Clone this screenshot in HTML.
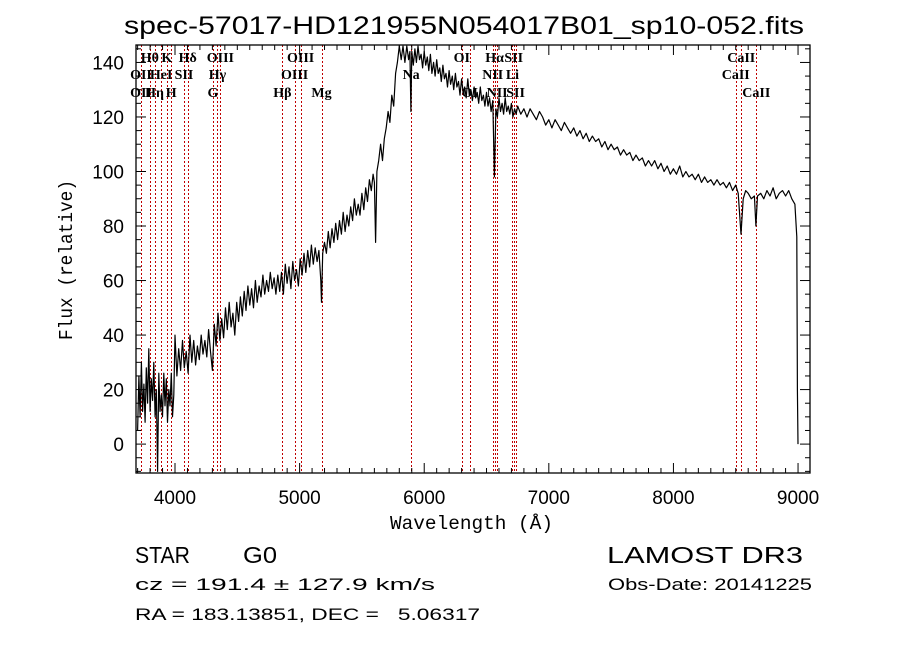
<!DOCTYPE html>
<html><head><meta charset="utf-8"><style>
html,body{margin:0;padding:0;background:#fff;}
svg{display:block;}
</style></head><body>
<svg id="chart" width="900" height="649" viewBox="0 0 900 649" xmlns="http://www.w3.org/2000/svg">
<rect width="900" height="649" fill="#fff"/>
<text x="124" y="34" textLength="680" lengthAdjust="spacingAndGlyphs" font-family="Liberation Sans, sans-serif" font-size="25">spec-57017-HD121955N054017B01_sp10-052.fits</text>
<g id="lines"></g>
<g id="labels"></g>
<path id="spec" fill="none" stroke="#000" stroke-width="1.2" stroke-linejoin="round"/>
<g id="axes"></g>
<text x="390" y="529" textLength="163" lengthAdjust="spacingAndGlyphs" font-family="Liberation Mono, monospace" font-size="19">Wavelength (Å)</text>
<text transform="translate(72,260) rotate(-90)" text-anchor="middle" textLength="160" lengthAdjust="spacingAndGlyphs" font-family="Liberation Mono, monospace" font-size="19">Flux (relative)</text>
<text x="135" y="563" textLength="55" lengthAdjust="spacingAndGlyphs" font-family="Liberation Sans, sans-serif" font-size="23">STAR</text>
<text x="243" y="563" textLength="34" lengthAdjust="spacingAndGlyphs" font-family="Liberation Sans, sans-serif" font-size="23">G0</text>
<text x="607" y="563" textLength="196" lengthAdjust="spacingAndGlyphs" font-family="Liberation Sans, sans-serif" font-size="23">LAMOST DR3</text>
<text x="135" y="590" textLength="300" lengthAdjust="spacingAndGlyphs" font-family="Liberation Sans, sans-serif" font-size="17">cz = 191.4 ± 127.9 km/s</text>
<text x="608" y="590" textLength="204" lengthAdjust="spacingAndGlyphs" font-family="Liberation Sans, sans-serif" font-size="17">Obs-Date: 20141225</text>
<text x="135" y="620" textLength="345" lengthAdjust="spacingAndGlyphs" font-family="Liberation Sans, sans-serif" font-size="17" xml:space="preserve">RA = 183.13851, DEC =   5.06317</text>
</svg>
<script>
const wave = [3700,3710,3720,3730,3740,3750,3760,3770,3780,3790,3800,3810,3820,3830,3840,3850,3860,3870,3880,3890,3900,3910,3920,3930,3940,3950,3960,3970,3980,3990,
4000,4015,4030,4045,4060,4075,4090,4105,4120,4135,4150,4165,4180,4195,4210,4225,4240,4255,4270,4285,4300,4315,4330,4345,4360,4375,4390,4405,4420,4435,4450,4465,4480,4495,4510,4525,4540,4555,4570,4585,4600,4615,4630,4645,4660,4675,4690,4705,4720,4735,4750,4765,4780,4795,4810,4825,4840,4855,4870,4885,4900,4915,4930,4945,4960,4975,4990,
5005,5020,5035,5050,5065,5080,5095,5110,5125,5140,5155,5170,5176,5185,5200,5215,5230,5245,5260,5275,5290,5305,5320,5335,5350,5365,5380,5395,5410,5425,5440,5455,5470,5485,5500,5515,5530,5545,5560,5575,5590,5600,5610,5620,5635,5650,5665,5680,5695,5710,5725,5740,5755,5770,5785,5800,5815,5830,5845,5860,5875,5885,5893,
5900,5912,5925,5937,5950,5962,5975,5987,6000,6012,6025,6037,6050,6062,6075,6087,6100,6112,6125,6137,6150,6162,6175,6187,6200,6212,6225,6237,6250,6262,6275,6287,6300,6312,6325,6337,6350,6362,6375,6387,6400,6412,6425,6437,6450,6462,6475,6487,6500,6512,6525,6537,6550,6563,6575,6587,6600,6612,6625,6637,6650,6662,6675,6687,6700,6712,6725,6737,
6750,6775,6800,6825,6850,6875,6900,6925,6950,6975,7000,7025,7050,7075,7100,7125,7150,7175,7200,7225,7250,7275,7300,7325,7350,7375,7400,7425,7450,7475,7500,7525,7550,7575,7600,7625,7650,7675,7700,7725,7750,7775,7800,7825,7850,7875,7900,7925,7950,7975,8000,8025,8050,8075,8100,8125,8150,8175,8200,8225,8250,8275,8300,8325,8350,8375,8400,8425,8450,8475,
8500,8520,8542,8560,8580,8600,8625,8650,8662,8675,8700,8725,8750,8775,8800,8825,8850,8875,8900,8925,8950,8975,8990,8995,9000];
const flux = [5,25,10,30,12,22,8,28,15,35,12,24,16,30,10,20,-10,26,12,18,10,26,14,24,8,20,14,26,10,18,
40,25,35,27,38,28,34,26,40,30,38,29,36,31,40,33,38,32,42,34,27,44,36,48,38,46,39,50,42,52,43,48,40,52,45,54,47,56,49,58,51,57,50,60,52,58,54,62,55,60,56,63,57,61,55,62,56,63,55,66,59,65,57,67,60,64,58,
68,62,70,63,71,65,73,66,72,67,71,60,52,70,74,70,78,72,79,74,81,75,82,77,85,78,84,80,87,82,90,84,88,84,92,86,94,89,97,93,99,96,74,100,104,110,104,112,116,122,118,128,124,136,140,146,141,146,140,146,141,144,122,
144,139,145,140,146,141,143,138,144,139,142,137,143,136,140,135,141,136,138,133,139,134,136,131,137,132,135,130,136,131,133,128,134,129,131,127,134,128,130,126,131,127,129,125,131,126,128,124,129,124,127,122,126,98,123,120,127,122,125,121,127,122,124,121,125,120,123,121,
124,121,123,120,123,121,119,122,120,117,119,116,119,117,115,118,116,114,116,113,115,112,114,111,113,111,112,109,111,108,110,108,109,106,108,106,107,104,106,104,105,102,104,102,104,101,103,100,102,99,101,99,102,98,100,98,99,97,99,96,98,96,97,95,97,95,96,94,96,93,
95,92,77,90,93,92,90,91,80,91,92,90,93,91,94,90,92,93,91,93,90,88,76,20,0];
const lineWaves = [3727,3798,3836,3889,3934,3969,4072,4102,4305,4341,4364,4862,4960,5008,5176,5895,6302,6366,6550,6565,6585,6708,6718,6733,8500,8544,8665];
const labelNames = ["Hθ","K","Hδ","OIII","OIII","OI","Hα","SII","CaII","OII","HeI","SII","Hγ","OIII","Na","NII","Li","CaII","OII","Hη","H","G","Hβ","Mg","OI","NII","SII","CaII"];
const labelWaves = [3798,3934,4102,4364,5008,6302,6565,6718,8544,3727,3889,4072,4341,4960,5895,6550,6708,8500,3727,3836,3969,4305,4862,5176,6366,6585,6733,8665];
const labelRows = [0,0,0,0,0,0,0,0,0,1,1,1,1,1,1,1,1,1,2,2,2,2,2,2,2,2,2,2];
const xTicks = [4000,5000,6000,7000,8000,9000];
const yTicks = [0,20,40,60,80,100,120,140];

const L=136,R=810,T=45,B=473;
const xMin=3687,xMax=9096,yMin=-10.6,yMax=146.4;
const X=w=>L+(w-xMin)/(xMax-xMin)*(R-L);
const Y=f=>B-(f-yMin)/(yMax-yMin)*(B-T);
const NS="http://www.w3.org/2000/svg";
function mk(tag,attrs,parent){const e=document.createElementNS(NS,tag);for(const k in attrs)e.setAttribute(k,attrs[k]);parent.appendChild(e);return e;}

const lg=document.getElementById('lines');
lineWaves.forEach(w=>{
  const xx=Math.round(X(w))+0.5;
  const l=mk('line',{x1:xx,x2:xx,y1:T,y2:B,stroke:'#c00000','stroke-width':1,'stroke-dasharray':'2,2'},lg);
  
  
});
const lb=document.getElementById('labels');
const rowY=[62,79,97];
labelNames.forEach((n,i)=>{
  const t=mk('text',{x:X(labelWaves[i]),y:rowY[labelRows[i]],'text-anchor':'middle','font-family':'Liberation Serif, serif','font-size':14,'font-weight':'bold'},lb);
  t.textContent=n;
  
  
});

let d='';
wave.forEach((w,i)=>{d+=(i?'L':'M')+X(w).toFixed(1)+','+Y(flux[i]).toFixed(1);});
document.getElementById('spec').setAttribute('d',d);

const ax=document.getElementById('axes');
const frame=mk('rect',{x:L,y:T,width:R-L,height:B-T,fill:'none',stroke:'#000','stroke-width':1.3},ax);


for(let w=3700;w<=xMax;w+=100){
  const major=w%1000===0, len=major?10:5;
  mk('line',{x1:X(w),x2:X(w),y1:B,y2:B-len,stroke:'#000'},ax);
  mk('line',{x1:X(w),x2:X(w),y1:T,y2:T+len,stroke:'#000'},ax);
}
for(let f=-10;f<=yMax;f+=5){
  const major=f%20===0, len=major?10:5;
  mk('line',{x1:L,x2:L+len,y1:Y(f),y2:Y(f),stroke:'#000'},ax);
  mk('line',{x1:R,x2:R-len,y1:Y(f),y2:Y(f),stroke:'#000'},ax);
}
xTicks.forEach(w=>{
  const t=mk('text',{x:X(w),y:504,'text-anchor':'middle','font-family':'Liberation Sans, sans-serif','font-size':19},ax);
  t.textContent=w;
  
  
});
yTicks.forEach(f=>{
  const t=mk('text',{x:124,y:Y(f)+7,'text-anchor':'end','font-family':'Liberation Sans, sans-serif','font-size':19},ax);
  t.textContent=f;
  
  
});
</script>
</body></html>
